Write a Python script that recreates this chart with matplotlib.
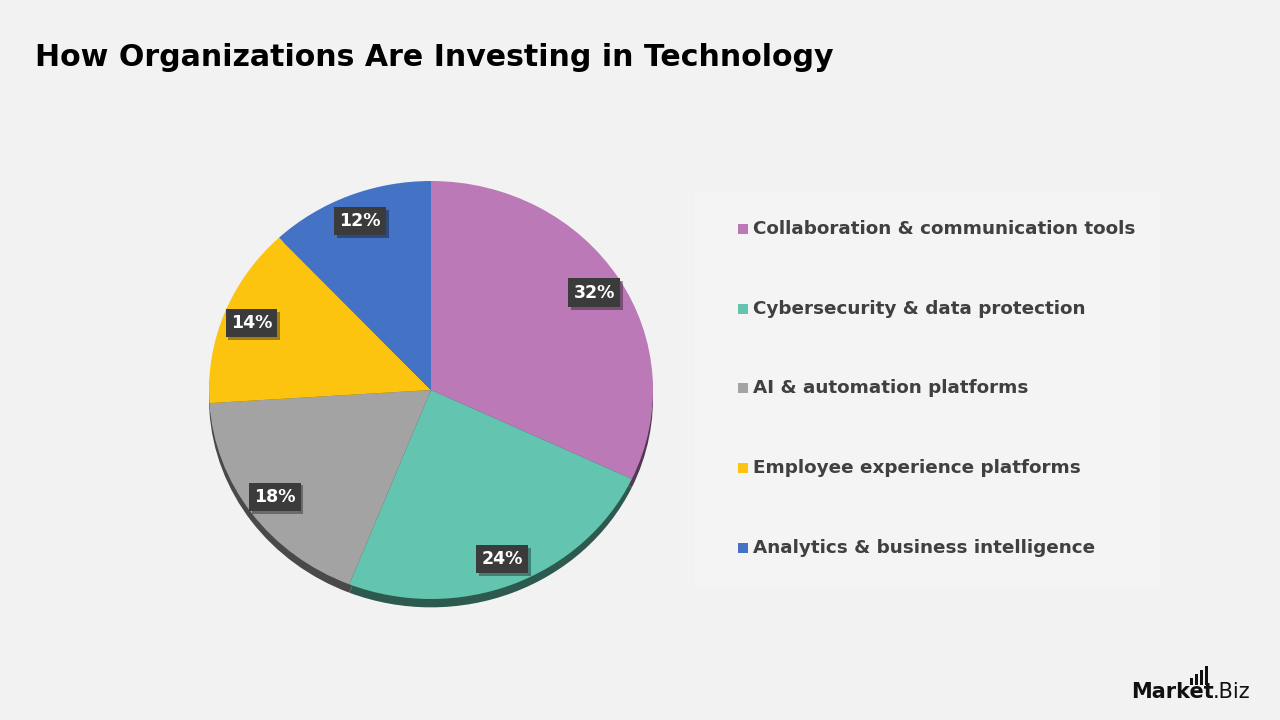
import matplotlib
matplotlib.use("Agg")
import matplotlib.pyplot as plt
import matplotlib.patheffects as pe
from matplotlib.colors import to_rgb

# ---- data ----
categories = [
    "Collaboration & communication tools",
    "Cybersecurity & data protection",
    "AI & automation platforms",
    "Employee experience platforms",
    "Analytics & business intelligence",
]
shares = [32, 24, 18, 14, 12]
colors = ["#BC79B8", "#63C5B0", "#A3A3A3", "#FCC30F", "#4472C4"]

BG = "#F2F2F2"
TEXT = "#404040"

plt.rcParams["font.family"] = ["DejaVu Sans"]

fig = plt.figure(figsize=(12.8, 7.2), dpi=100, facecolor=BG)

# ---- title ----
fig.text(35 / 1280, 1 - 58 / 720, "How Organizations Are Investing in Technology",
         fontsize=21.6, fontweight="bold", color="black", va="center", ha="left")

# ---- pie (slightly flattened, with a dark rim for depth) ----
ax = fig.add_axes([209 / 1280, 121 / 720, 444 / 1280, 418 / 720])
ax.set_facecolor("none")


def darken(c, f=0.45):
    r, g, b = to_rgb(c)
    return (r * f, g * f, b * f)


ax.pie(shares, colors=[darken(c) for c in colors], startangle=90,
       counterclock=False, radius=1, center=(0, -0.04),
       wedgeprops=dict(linewidth=0))
wedges, _, autotexts = ax.pie(
    shares, colors=colors, startangle=90, counterclock=False, radius=1,
    autopct=lambda p: f"{p:.0f}%", pctdistance=0.87,
    wedgeprops=dict(linewidth=0))
ax.set_aspect("auto")
ax.set_xlim(-1, 1)
ax.set_ylim(-1, 1)
ax.axis("off")

for t in autotexts:
    t.set_color("white")
    t.set_fontsize(12.5)
    t.set_fontweight("bold")
    t.set_bbox(dict(boxstyle="square,pad=0.3", facecolor="#3B3B3B", edgecolor="none"))
    t.get_bbox_patch().set_path_effects(
        [pe.SimplePatchShadow(offset=(2, -2), shadow_rgbFace="#000000", alpha=0.35), pe.Normal()])

# ---- legend panel ----
panel = plt.Rectangle((695 / 1280, 1 - 588 / 720), 465 / 1280, 396 / 720,
                      transform=fig.transFigure, facecolor="#F4F4F4",
                      edgecolor="none", zorder=0)
fig.patches.append(panel)

for i, (lab, col) in enumerate(zip(categories, colors)):
    y = 1 - (229 + i * 79.7) / 720
    sq = plt.Rectangle((738 / 1280, y - 5 / 720), 10 / 1280, 10 / 720,
                       transform=fig.transFigure, facecolor=col, edgecolor="none")
    fig.patches.append(sq)
    fig.text(753 / 1280, y, lab, fontsize=13.2, fontweight="bold", color=TEXT,
             va="center", ha="left")

# ---- logo ----
fig.text(1131 / 1280, 1 - 692 / 720, "Market", fontsize=15, fontweight="bold",
         color="#111111", va="center", ha="left")
fig.text(1213 / 1280, 1 - 692 / 720, ".Biz", fontsize=15, color="#111111",
         va="center", ha="left")
for k, h in enumerate([7, 11, 15, 19]):
    bar = plt.Rectangle(((1190 + k * 5) / 1280, 1 - 685 / 720), 3 / 1280, h / 720,
                        transform=fig.transFigure, facecolor="#111111", edgecolor="none")
    fig.patches.append(bar)

fig.savefig("out.png", dpi=100, facecolor=BG)
